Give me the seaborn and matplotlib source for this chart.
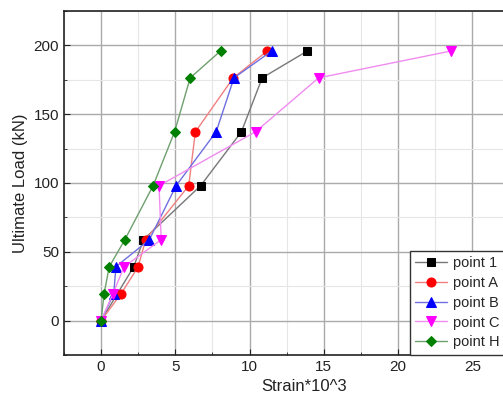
import matplotlib
matplotlib.use("Agg")
import matplotlib.pyplot as plt
import seaborn as sns
from matplotlib.ticker import MultipleLocator

# Load steps (kN)
load = [0, 19.6, 39.2, 58.8, 98, 137.2, 176.4, 196]

# Strain*10^3 per measurement point
strain_1 = [0, 1.1, 2.2, 2.85, 6.7, 9.45, 10.85, 13.9]
strain_A = [0, 1.35, 2.5, 3.0, 5.9, 6.35, 8.9, 11.2]
strain_B = [0, 0.85, 1.0, 3.25, 5.05, 7.75, 8.95, 11.5]
strain_C = [0, 0.8, 1.55, 4.05, 3.9, 10.4, 14.65, 23.6]
strain_H = [0, 0.2, 0.55, 1.6, 3.5, 4.95, 6.0, 8.05]

labels = ["point 1", "point A", "point B", "point C", "point H"]
series = [strain_1, strain_A, strain_B, strain_C, strain_H]
colors = ["#000000", "#ff0000", "#0000ff", "#ff00ff", "#008000"]
line_colors = ["#777777", "#f08080", "#6f6fe0", "#f08cf0", "#6f9f6f"]
markers = ["s", "o", "^", "v", "D"]
msizes = [5.5, 6.5, 6.5, 6.5, 5.5]

sns.set_style("ticks")
plt.rcParams["font.family"] = ["Liberation Sans", "DejaVu Sans"]

fig = plt.figure(figsize=(5.03, 4.13), dpi=100)
ax = fig.add_axes([64 / 503, 58 / 413, 481 / 503, 344 / 413])

for xs, lab, c, lc, m, ms in zip(series, labels, colors, line_colors, markers, msizes):
    sns.lineplot(x=xs, y=load, ax=ax, sort=False, estimator=None,
                 color=lc, linewidth=1.0, marker=m, markersize=ms,
                 markerfacecolor=c, markeredgecolor=c, label=lab)

# axis runs off the right edge of the picture, as in the source
ax.set_xlim(-2.5, 29.9)
ax.set_ylim(-25, 225)
ax.xaxis.set_major_locator(MultipleLocator(5))
ax.xaxis.set_minor_locator(MultipleLocator(2.5))
ax.yaxis.set_major_locator(MultipleLocator(50))
ax.yaxis.set_minor_locator(MultipleLocator(25))
ax.grid(which="major", color="#aaaaaa", linewidth=1.0)
ax.grid(which="minor", color="#e6e6e6", linewidth=0.8)
ax.set_axisbelow(True)
ax.tick_params(which="both", direction="in", labelsize=11, colors="#222222")
ax.tick_params(which="major", length=4)
ax.tick_params(which="minor", length=2.5)
for s in ax.spines.values():
    s.set_color("#222222")
    s.set_linewidth(1.2)

ax.set_xlabel("Strain*10^3", fontsize=12, color="#222222")
ax.set_ylabel("Ultimate Load (kN)", fontsize=12, color="#222222")

leg = ax.legend(loc="upper left", bbox_to_anchor=(410 / 503, 1 - 251 / 413),
                bbox_transform=fig.transFigure, fontsize=10.5, frameon=True,
                fancybox=False, borderaxespad=0, labelspacing=0.4,
                handlelength=2.2, borderpad=0.35, handletextpad=0.4)
leg.get_frame().set_edgecolor("#333333")
leg.get_frame().set_linewidth(1.0)
leg.get_frame().set_alpha(1)

fig.savefig("out.png", dpi=100)
